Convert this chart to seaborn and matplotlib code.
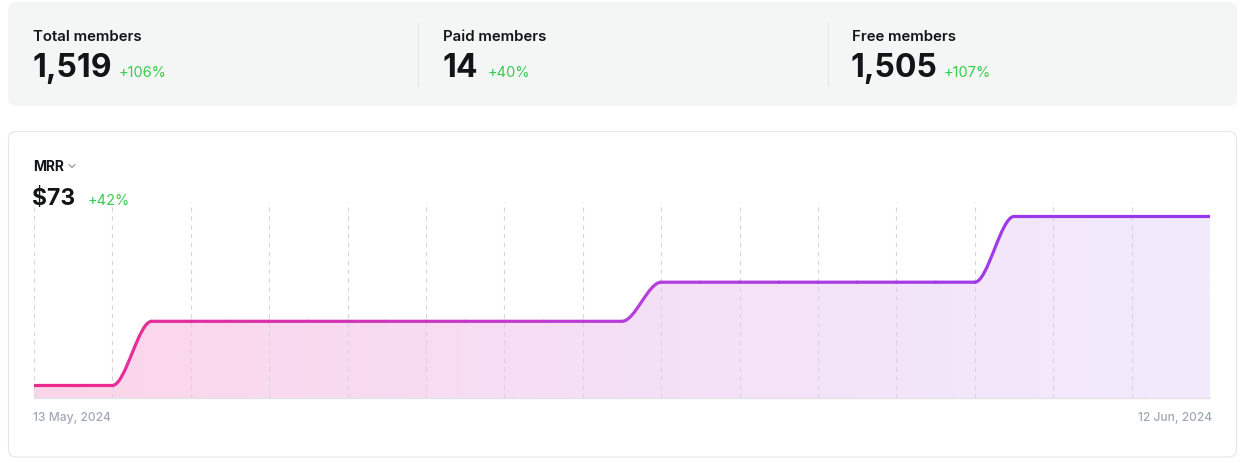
import numpy as np
import pandas as pd
import matplotlib
matplotlib.use("Agg")
import matplotlib.pyplot as plt
import matplotlib.dates as mdates
from matplotlib.path import Path
from matplotlib.patches import PathPatch, FancyBboxPatch
from matplotlib.transforms import IdentityTransform
from matplotlib.lines import Line2D
import seaborn as sns

# ---------------- data ----------------
stat_labels = ["Total members", "Paid members", "Free members"]
stat_values = ["1,519", "14", "1,505"]
stat_changes = ["+106%", "+40%", "+107%"]

metric_name = "MRR"
metric_value = "$73"
metric_change = "+42%"

dates = pd.date_range("2024-05-13", "2024-06-12", freq="D")
mrr = [51.4] * 3 + [59.6] * 13 + [64.6] * 9 + [73.0] * 6
date_labels = ["13 May, 2024", "12 Jun, 2024"]

# ---------------- style ----------------
sns.set_theme(style="white")
plt.rcParams["font.family"] = ["Inter", "DejaVu Sans"]

W, H = 1244, 464
fig = plt.figure(figsize=(W / 100, H / 100), dpi=100)
fig.patch.set_facecolor("white")
IT = IdentityTransform()

DARK = "#121417"
GREEN = "#38cc4e"
GREY = "#a2a8b4"
PINK = "#ee2a8c"
PURPLE = "#9238ee"

# cards
top_card = FancyBboxPatch((8, H - 107), 1229, 104,
                          boxstyle="round,pad=0,rounding_size=8",
                          transform=IT, fc="#f4f5f5", ec="none", zorder=-2)
fig.add_artist(top_card)
chart_card = FancyBboxPatch((8.5, H - 458), 1228, 325.5,
                            boxstyle="round,pad=0,rounding_size=8",
                            transform=IT, fc="white", ec="#e6e7ea", lw=0.8, zorder=-2)
fig.add_artist(chart_card)
for xd in (418, 828):
    fig.add_artist(Line2D([xd, xd], [H - 24, H - 87], transform=IT,
                          color="#e6e8e8", lw=0.8, zorder=-1))

# stats
col_x = [33, 443, 852]
change_x = [119, 488, 944]
for cx, chx, lab, val, chg in zip(col_x, change_x, stat_labels, stat_values, stat_changes):
    fig.text(cx, H - 41, lab, transform=IT, fontsize=10.8, weight="semibold",
             color=DARK, va="baseline", ha="left")
    fig.text(cx - 1, H - 77.5, val, transform=IT, fontsize=23, weight="bold",
             color=DARK, va="baseline", ha="left")
    fig.text(chx, H - 77.5, chg, transform=IT, fontsize=10.5, color=GREEN,
             va="baseline", ha="left")

# metric header
fig.text(33, H - 171, metric_name, transform=IT, fontsize=10, weight="bold",
         color=DARK, va="baseline", ha="left")
fig.add_artist(Line2D([69, 72, 75], [H - 165.5, H - 168.5, H - 165.5],
                      transform=IT, color="#8a8f98", lw=0.8))
fig.text(32, H - 205, metric_value, transform=IT, fontsize=16.5, weight="bold",
         color=DARK, va="baseline", ha="left")
fig.text(88, H - 205, metric_change, transform=IT, fontsize=10.5, color=GREEN,
         va="baseline", ha="left")

# ---------------- chart ----------------
ax = fig.add_axes([34 / W, (H - 399) / H, (1210 - 34) / W, (399 - 203) / H])
ax.patch.set_visible(False)

x = mdates.date2num(dates)
y = np.asarray(mrr, dtype=float)
ymin, ymax = 49.80, 74.85
dx = x[1] - x[0]

verts = [(x[0], y[0])]
codes = [Path.MOVETO]
for i in range(len(x) - 1):
    verts += [(x[i] + dx / 3, y[i]), (x[i + 1] - dx / 3, y[i + 1]), (x[i + 1], y[i + 1])]
    codes += [Path.CURVE4] * 3

fill_verts = verts + [(x[-1], ymin), (x[0], ymin), (x[0], y[0])]
fill_codes = codes + [Path.LINETO, Path.LINETO, Path.CLOSEPOLY]
fill_patch = PathPatch(Path(fill_verts, fill_codes), transform=ax.transData,
                       fc="none", ec="none")

fill_pal = sns.blend_palette(["#fcd5ea", "#f5e0f6", "#f2eafd"], n_colors=256)
grad = np.array(fill_pal)[None, :, :]
im = ax.imshow(grad, extent=[x[0], x[-1], ymin, ymax], aspect="auto",
               interpolation="bilinear", zorder=0.2)
im.set_clip_path(fill_patch)

line_pal = sns.blend_palette([PINK, "#b83edc", PURPLE], n_colors=len(x) - 1)
for i in range(len(x) - 1):
    seg = Path([(x[i], y[i]), (x[i] + dx / 3, y[i]), (x[i + 1] - dx / 3, y[i + 1]),
                (x[i + 1], y[i + 1])],
               [Path.MOVETO, Path.CURVE4, Path.CURVE4, Path.CURVE4])
    ax.add_patch(PathPatch(seg, fc="none", ec=line_pal[i], lw=2.3,
                           capstyle="round", joinstyle="round", zorder=3))

ax.set_xlim(x[0], x[-1])
ax.set_ylim(ymin, ymax)
ax.set_xticks(x[::2])
ax.set_yticks([])
ax.grid(axis="x", color="#d5d5de", linestyle=(0, (4, 4)), lw=0.8)
ax.tick_params(length=0, labelbottom=False, labelleft=False)
sns.despine(ax=ax, left=True, top=True, right=True)
ax.spines["bottom"].set_color("#e3e3ea")
ax.spines["bottom"].set_linewidth(1.0)

fig.text(33, H - 421, date_labels[0], transform=IT, fontsize=8.7, weight="medium",
         color=GREY, va="baseline", ha="left")
fig.text(1212, H - 421, date_labels[1], transform=IT, fontsize=8.7, weight="medium",
         color=GREY, va="baseline", ha="right")

fig.savefig("out.png", dpi=100, facecolor="white")
